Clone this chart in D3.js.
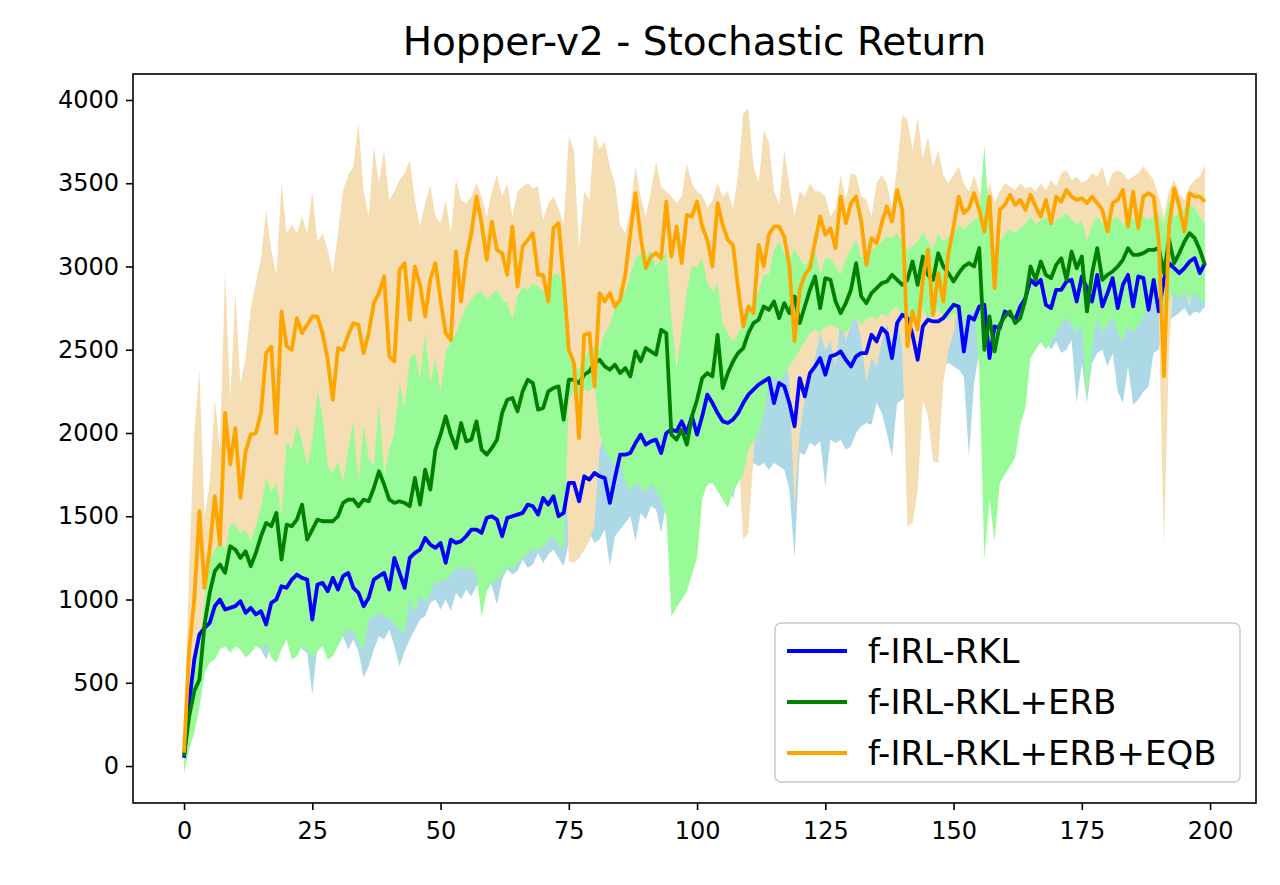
<!DOCTYPE html>
<html>
<head>
<meta charset="utf-8">
<script src="https://cdn.jsdelivr.net/npm/d3@7"></script>
<style>
  body { margin: 0; background: #fff; }
  svg { font-family: "DejaVu Sans", sans-serif; }
</style>
</head>
<body>
<div id="chart"></div>
<script>
// ---- data ----
const title = "Hopper-v2 - Stochastic Return";
const seriesNames = ["f-IRL-RKL", "f-IRL-RKL+ERB", "f-IRL-RKL+ERB+EQB"];
const xTicks = [0, 25, 50, 75, 100, 125, 150, 175, 200];
const yTicks = [0, 500, 1000, 1500, 2000, 2500, 3000, 3500, 4000];

// f-IRL-RKL
const rklMean = [
  50, 380, 640, 790, 830, 860, 960, 1000, 940, 950,
  960, 990, 920, 950, 910, 930, 850, 980, 1000, 1080,
  1070, 1120, 1150, 1130, 1120, 880, 1090, 1100, 1050, 1130,
  1060, 1140, 1160, 1070, 1040, 960, 1010, 1120, 1140, 1160,
  1060, 1250, 1160, 1070, 1250, 1280, 1300, 1370, 1330, 1310,
  1340, 1220, 1360, 1340, 1350, 1380, 1420, 1420, 1400, 1490,
  1500, 1480, 1380, 1490, 1500, 1510, 1520, 1570, 1560, 1510,
  1610, 1570, 1620, 1500, 1520, 1700, 1700, 1590, 1740, 1720,
  1760, 1740, 1730, 1580, 1730, 1870, 1870, 1880, 1940, 1990,
  1930, 1950, 1960, 1880, 2000, 2020, 2010, 2070, 2000, 2100,
  1990, 2100, 2230, 2180, 2120, 2070, 2060, 2080, 2120, 2180,
  2230, 2260, 2290, 2310, 2330, 2180, 2300, 2280, 2180, 2040,
  2330, 2220, 2360, 2400, 2450, 2350, 2460, 2470, 2490, 2440,
  2400, 2460, 2480, 2480, 2590, 2550, 2630, 2600, 2450, 2660,
  2710, 2690, 2590, 2440, 2640, 2680, 2670, 2670, 2690, 2730,
  2770, 2760, 2490, 2700, 2680, 2760, 2770, 2450, 2640, 2630,
  2730, 2710, 2680, 2760, 2810, 2920, 2890, 2920, 2770, 2750,
  2860, 2860, 2910, 2920, 2790, 2940, 2870, 2790, 2950, 2760,
  2840, 2930, 2750, 2890, 2950, 2760, 2940, 2930, 2740, 2920,
  2730, 2920, 3020, 2990, 2960, 2990, 3030, 3050, 2960, 3020
];
const rklLow = [
  -20, 150, 400, 560, 620, 640, 680, 720, 820, 760,
  720, 800, 760, 770, 740, 700, 640, 720, 780, 760,
  800, 780, 820, 700, 680, 430, 720, 780, 800, 760,
  820, 780, 700, 760, 690, 530, 600, 700, 780, 760,
  820, 720, 600, 690, 760, 820, 880, 900, 980, 1000,
  940, 1000, 930, 1040, 1000, 1060, 1020, 1080, 1100, 1150,
  1080, 970, 1120, 1180, 1150, 1170, 1240, 1190, 1210, 1280,
  1220, 1270, 1300, 1250, 1200, 1340, 1380, 1250, 1300, 1400,
  1340, 1360, 1420, 1200, 1380, 1420, 1460, 1500, 1350, 1520,
  1480, 1560, 1540, 1400, 1580, 1600, 1620, 1560, 1640, 1480,
  1660, 1700, 1680, 1750, 1700, 1780, 1720, 1600, 1760, 1700,
  1780, 1820, 1800, 1820, 1780, 1820, 1800, 1780, 1660, 1250,
  1880, 1870, 1940, 1920, 1950, 1680, 1960, 1940, 1960, 1900,
  1920, 2000, 2040, 2060, 2050, 2180, 2120, 2000, 1860, 2180,
  2200, 2220, 2380, 2300, 2400, 2350, 2150, 2380, 2400, 2420,
  2400, 2380, 2340, 1860, 2300, 2480, 2500, 2450, 2300, 2500,
  2520, 2480, 2500, 2540, 2500, 2550, 2520, 2540, 2560, 2500,
  2550, 2480, 2500, 2560, 2180, 2420, 2180, 2420, 2480, 2500,
  2400, 2480, 2250, 2180, 2400, 2170, 2200, 2250, 2280, 2480,
  2500, 2700, 2680, 2700, 2720, 2750, 2700, 2730, 2720, 2760
];
const rklHigh = [
  100, 550, 850, 950, 1000, 1050, 1150, 1200, 1150, 1150,
  1180, 1200, 1120, 1150, 1100, 1150, 1050, 1200, 1220, 1300,
  1280, 1350, 1380, 1350, 1350, 1150, 1320, 1350, 1350, 1380,
  1300, 1380, 1400, 1300, 1280, 1200, 1250, 1380, 1400, 1420,
  1300, 1500, 1420, 1320, 1500, 1550, 1560, 1620, 1600, 1580,
  1600, 1480, 1620, 1600, 1620, 1650, 1680, 1680, 1650, 1750,
  1760, 1740, 1650, 1760, 1780, 1790, 1800, 1850, 1840, 1800,
  1880, 1850, 1900, 1780, 1800, 2000, 2000, 1880, 2050, 2020,
  2060, 2050, 2040, 1900, 2050, 2150, 2150, 2180, 2220, 2280,
  2220, 2240, 2260, 2180, 2300, 2320, 2310, 2370, 2300, 2400,
  2300, 2400, 2520, 2480, 2420, 2380, 2360, 2380, 2420, 2480,
  2520, 2550, 2580, 2600, 2620, 2480, 2600, 2580, 2480, 2400,
  2620, 2520, 2650, 2680, 2720, 2650, 2740, 2760, 2780, 2730,
  2700, 2750, 2760, 2770, 2860, 2820, 2900, 2880, 2750, 2940,
  2980, 2960, 2860, 2750, 2920, 2960, 2950, 2950, 2970, 3000,
  3040, 3030, 2800, 2980, 2960, 3040, 3050, 2760, 2940, 3000,
  3000, 3000, 2980, 3050, 3100, 3200, 3180, 3220, 3100, 3080,
  3150, 3150, 3180, 3200, 3080, 3220, 3150, 3080, 3220, 3060,
  3120, 3200, 3050, 3170, 3220, 3060, 3210, 3200, 3040, 3190,
  3020, 3150, 3250, 3220, 3180, 3220, 3250, 3280, 3200, 3250
];

// f-IRL-RKL+ERB
const erbMean = [
  60, 300, 450, 520, 850, 1040, 1170, 1210, 1160, 1320,
  1300, 1250, 1290, 1200, 1280, 1380, 1460, 1440, 1520, 1240,
  1450, 1440, 1480, 1570, 1360, 1420, 1480, 1470, 1470, 1470,
  1500, 1580, 1600, 1600, 1560, 1600, 1590, 1670, 1770, 1690,
  1600, 1580, 1590, 1580, 1560, 1730, 1570, 1780, 1660, 1900,
  1990, 2100, 1990, 1910, 2060, 1950, 1960, 2070, 1900, 1870,
  1910, 1960, 2120, 2200, 2210, 2130, 2250, 2320, 2300, 2140,
  2150, 2250, 2270, 2280, 2080, 2320, 2320, 2300, 2350, 2370,
  2420, 2440, 2400, 2380, 2410, 2360, 2390, 2340, 2490, 2430,
  2510, 2490, 2470, 2620, 2600, 1990, 1960, 2020, 1930, 2100,
  2200, 2330, 2360, 2340, 2590, 2270, 2360, 2430, 2480, 2510,
  2600, 2660, 2680, 2760, 2740, 2790, 2690, 2780, 2720, 2820,
  2660, 2760, 2860, 2940, 2750, 2930, 2920, 2790, 2720, 2780,
  2860, 3020, 2820, 2780, 2840, 2870, 2900, 2910, 2950, 2920,
  2890, 2920, 3030, 2890, 3060, 2950, 2920, 3080, 3000, 2960,
  2910, 2960, 3000, 3020, 3000, 3110, 2500, 2700, 2490, 2650,
  2700, 2730, 2660, 2690, 2800, 3000, 2920, 3030, 2950, 2930,
  3010, 3050, 2920, 3090, 2990, 3060, 2730, 2960, 3110, 2920,
  2950, 2970, 3000, 3040, 3110, 3070, 3070, 3080, 3100, 3100,
  3110, 2960, 3160, 3020, 3080, 3150, 3200, 3170, 3100, 3010
];
const erbLow = [
  -40, 100, 200, 350, 560, 620, 640, 700, 720, 680,
  720, 700, 650, 680, 720, 700, 740, 650, 620, 700,
  760, 640, 660, 720, 700, 650, 690, 720, 640, 660,
  720, 780, 820, 810, 740, 700, 880, 900, 920, 900,
  880, 860, 820, 800, 1000, 920, 1030, 980, 1050, 1100,
  1110, 1120, 1150, 1180, 1200, 1180, 1200, 1150, 900, 1050,
  1100, 1120, 1150, 1200, 1180, 1220, 1250, 1280, 1300, 1300,
  1320, 1350, 1380, 1330, 1300, 2200, 2250, 2200, 2260, 2250,
  2300, 2000, 1900, 1850, 1800, 1850, 1700, 1650, 1700, 1680,
  1640, 1700, 1650, 1600, 1500, 900, 950, 1000, 1050, 1150,
  1250, 1600, 1700, 1700, 1650, 1600, 1550, 1650, 1700, 1750,
  1900, 1950, 2000, 2100, 2300, 2350, 2300, 2350, 2400, 2450,
  2500, 2550, 2600, 2620, 2600, 2640, 2650, 2640, 2620, 2600,
  2650, 2700, 2650, 2680, 2700, 2680, 2720, 2700, 2740, 2760,
  2700, 2650, 2700, 2600, 2750, 2680, 2700, 2750, 2700, 2680,
  2720, 2700, 2650, 2700, 2750, 2400, 1240, 1600, 1350, 1700,
  1750, 1800, 1850, 2050, 2150, 2450, 2500, 2550, 2500, 2550,
  2600, 2650, 2700, 2650, 2600, 2650, 2200, 2500, 2700, 2600,
  2650, 2700, 2600, 2550, 2650, 2600, 2650, 2700, 2750, 2800,
  2850, 2700, 2800, 2850, 2800, 2850, 2800, 2850, 2800, 2780
];
const erbHigh = [
  150, 500, 650, 700, 1000, 1250, 1300, 1350, 1300, 1450,
  1450, 1400, 1420, 1350, 1450, 1550, 1730, 1650, 1700, 1500,
  1950, 1900, 2050, 1950, 1800, 1950, 2250, 2100, 1800, 1760,
  1830, 1700, 1900, 2070, 1700, 2050, 1850, 1800, 2180, 1750,
  1900, 2000, 2300, 2150, 2450, 2480, 2320, 2600, 2300, 2450,
  2250, 2480, 2550, 2600, 2680, 2760, 2800, 2840, 2850, 2800,
  2830, 2860, 2800, 2780, 2680, 2820, 2880, 2860, 2900, 2880,
  2850, 2900, 2950, 2960, 2900, 2450, 2420, 2380, 2450, 2500,
  2520, 2500, 2600, 2650, 2750, 2800, 2850, 2950, 3050, 3080,
  3050, 3100, 3000, 3050, 3080, 2700, 2400, 2600, 2850, 3000,
  3000, 3050, 2900, 2850, 2900, 2650, 2600, 2550, 2600, 2650,
  2750, 2800, 2850, 2950, 2950, 3100, 3150, 3080, 3050, 3100,
  3050, 3000, 3050, 3100, 2950, 3050, 3050, 3000, 2950, 3050,
  3100, 3160, 3050, 3080, 3100, 3120, 3150, 3180, 3170, 3200,
  3150, 3100, 3120, 3150, 3200, 3150, 3100, 3200, 3150, 3180,
  3200, 3250, 3220, 3250, 3280, 3300, 3730, 3250, 3100, 3150,
  3200, 3220, 3200, 3230, 3250, 3300, 3250, 3280, 3300, 3250,
  3280, 3300, 3320, 3280, 3250, 3280, 3150, 3250, 3300, 3260,
  3250, 3280, 3300, 3250, 3300, 3280, 3320, 3300, 3280, 3300,
  3320, 3250, 3400, 3300, 3320, 3350, 3380, 3350, 3300, 3250
];

// f-IRL-RKL+ERB+EQB
const eqbMean = [
  80, 700, 1000, 1530, 1070, 1300, 1620, 1330, 2120, 1810,
  2030, 1610, 1890, 1990, 2000, 2120, 2480, 2520, 2000, 2730,
  2520, 2500, 2690, 2600, 2650, 2700, 2700, 2600, 2440, 2200,
  2510, 2500, 2590, 2660, 2650, 2480, 2600, 2780, 2840, 2940,
  2460, 2430, 2980, 3020, 2680, 3000, 2890, 2700, 2920, 3020,
  2800, 2600, 2560, 3090, 2790, 3050, 3200, 3420, 3260, 3040,
  3270, 3100, 3080, 2950, 3240, 2880, 3120, 3160, 3200, 2950,
  2950, 2790, 3230, 3260, 2920, 2500, 2420, 1970, 2590, 2600,
  2280, 2840, 2790, 2840, 2760, 2800, 2950, 3200, 3440, 3180,
  2990, 3060, 3080, 3050, 3390, 3060, 3240, 3020, 3310, 3300,
  3390, 3240, 3160, 3000, 3380, 3250, 3160, 3130, 2870, 2640,
  2760, 2720, 3130, 3000, 3190, 3240, 3240, 3180, 3000, 2550,
  2860, 2950, 2990, 3150, 3300, 3190, 3230, 3110, 3420, 3260,
  3380, 3420, 3270, 3010, 3170, 3140, 3260, 3360, 3270, 3460,
  3340, 2520, 2730, 2620, 2920, 3100, 2710, 2960, 2790, 3080,
  3240, 3420, 3320, 3350, 3440, 3340, 3210, 3420, 2870, 3340,
  3370, 3430, 3370, 3400, 3340, 3430, 3360, 3300, 3400, 3260,
  3420, 3390, 3460, 3420, 3400, 3410, 3380, 3420, 3380, 3340,
  3210, 3380, 3400, 3460, 3240, 3450, 3230, 3420, 3440, 3420,
  3150, 2340, 3240, 3470, 3360, 3210, 3440, 3420, 3420, 3390
];
const eqbLow = [
  -40, 150, 400, 700, 650, 800, 900, 850, 1100, 1000,
  1000, 950, 1100, 1200, 1150, 1200, 1350, 1400, 1150, 1500,
  1400, 1300, 1450, 1400, 1500, 1450, 1500, 1350, 1200, 1150,
  1400, 1450, 1500, 1550, 1500, 1400, 1500, 1600, 1700, 1800,
  1300, 1350, 1800, 1900, 1600, 1900, 1800, 1600, 1900, 2000,
  1800, 1600, 1500, 2100, 1800, 2000, 2200, 2300, 2400, 2200,
  2450, 2300, 2250, 2100, 2400, 2000, 2300, 2350, 2400, 2100,
  2050, 1900, 2400, 2450, 2200, 1230, 1220, 1250, 1300, 1350,
  1450, 1900, 2000, 2100, 2000, 2100, 2200, 2400, 2600, 2400,
  2200, 2300, 2350, 2300, 2650, 2300, 2450, 2250, 2550, 2500,
  2600, 2450, 2400, 2200, 2600, 2500, 2300, 2100, 1900, 1360,
  1400, 1850, 2300, 2200, 2500, 2600, 2550, 2500, 2300, 1550,
  2000, 2200, 2300, 2450, 2600, 2500, 2550, 2400, 2700, 2550,
  2650, 2700, 2550, 2300, 2450, 2400, 2550, 2650, 2550, 2700,
  2500, 1440, 1460, 1650, 2200, 2100, 1830, 1820, 2300, 2500,
  2600, 2800, 2700, 2750, 2850, 2750, 2650, 2800, 2300, 2750,
  2800, 2900, 2850, 2900, 2850, 2950, 2900, 2850, 2950, 2800,
  2950, 2900, 3000, 2950, 2900, 2950, 2900, 2950, 2900, 2850,
  2700, 2900, 2950, 3000, 2800, 2950, 2800, 2950, 3000, 2950,
  2700, 1330, 2500, 2950, 3000, 2900, 2750, 2950, 3000, 2950
];
const eqbHigh = [
  120, 1200, 2000, 2380, 1500, 1700, 2200, 1900, 2970, 2200,
  2840, 2300, 2450, 2750, 2900, 3050, 3340, 3100, 2950, 3500,
  3200, 3250, 3200, 3300, 3200, 3450, 3150, 3200, 3100, 2960,
  3200, 3460, 3550, 3600, 3860, 3460, 3300, 3720, 3500, 3700,
  3400, 3450, 3520, 3560, 3640, 3400, 3240, 3380, 3490, 3300,
  3260, 3400, 3200, 3520, 3400, 3380, 3420, 3500, 3420, 3300,
  3450, 3550, 3420, 3500, 3300, 3450, 3480, 3500, 3470, 3480,
  3280, 3380, 3420, 3350, 3250, 3780, 3700, 3100, 3450, 3400,
  3800, 3700, 3750, 3600, 3500, 3250, 3200, 3350, 3600, 3420,
  3300, 3450, 3630, 3480, 3450, 3420, 3380, 3420, 3620, 3500,
  3450, 3430, 3350, 3400, 3500, 3420, 3450, 3350, 3550, 3920,
  3950, 3600, 3500, 3820, 3750, 3450, 3380, 3700, 3480, 3300,
  3450, 3420, 3500, 3450, 3450, 3420, 3300, 3350, 3550, 3400,
  3560, 3550, 3420, 3400, 3300, 3500, 3550, 3500, 3350, 3600,
  3910, 3880, 3700, 3900, 3650, 3780, 3600, 3700, 3550, 3500,
  3550, 3600, 3500, 3450, 3550, 3450, 3400, 3500, 3380, 3450,
  3500, 3480, 3460, 3500, 3470, 3480, 3450, 3500, 3460, 3520,
  3480, 3560, 3580, 3520, 3540, 3500, 3520, 3560, 3540, 3600,
  3480, 3560, 3580, 3560, 3520, 3540, 3560, 3600, 3560, 3520,
  3420, 3300, 3460, 3520, 3440, 3400, 3480, 3520, 3540, 3610
];

// ---- layout ----
const W = 1280, H = 885;
const mLeft = 133, mRight = 1256, mTop = 74, mBottom = 803;

const svg = d3.select("#chart").append("svg")
  .attr("width", W)
  .attr("height", H)
  .attr("viewBox", `0 0 ${W} ${H}`);

const x = d3.scaleLinear().domain([-9.95, 208.95]).range([mLeft, mRight]);
const y = d3.scaleLinear().domain([-222, 4156]).range([mBottom, mTop]);

svg.append("clipPath").attr("id", "plotclip")
  .append("rect")
  .attr("x", mLeft).attr("y", mTop)
  .attr("width", mRight - mLeft).attr("height", mBottom - mTop);

const plot = svg.append("g").attr("clip-path", "url(#plotclip)");

function makeRows(mean, low, high) {
  return mean.map((m, i) => ({ i: i, m: m, lo: low[i], hi: high[i] }));
}

const series = [
  { name: seriesNames[0], rows: makeRows(rklMean, rklLow, rklHigh), line: "#0000ff", band: "#add8e6" },
  { name: seriesNames[1], rows: makeRows(erbMean, erbLow, erbHigh), line: "#008000", band: "#98fb98" },
  { name: seriesNames[2], rows: makeRows(eqbMean, eqbLow, eqbHigh), line: "#ffa500", band: "#f5deb3" }
];

const area = d3.area()
  .x(d => x(d.i))
  .y0(d => y(d.lo))
  .y1(d => y(d.hi));

const line = d3.line()
  .x(d => x(d.i))
  .y(d => y(d.m));

// bands: blue first, then orange, green on top (as in the picture)
[series[0], series[2], series[1]].forEach(s => {
  plot.append("path")
    .attr("d", area(s.rows))
    .attr("fill", s.band)
    .attr("stroke", "none");
});

series.forEach(s => {
  plot.append("path")
    .attr("d", line(s.rows))
    .attr("fill", "none")
    .attr("stroke", s.line)
    .attr("stroke-width", 3.8)
    .attr("stroke-linejoin", "round");
});

// axes
const xAxis = svg.append("g")
  .attr("transform", `translate(0, ${mBottom})`)
  .call(d3.axisBottom(x).tickValues(xTicks).tickSize(7).tickPadding(12).tickFormat(d3.format("d")));
const yAxis = svg.append("g")
  .attr("transform", `translate(${mLeft}, 0)`)
  .call(d3.axisLeft(y).tickValues(yTicks).tickSize(7).tickPadding(7).tickFormat(d3.format("d")));

[xAxis, yAxis].forEach(a => {
  a.select(".domain").remove();
  a.selectAll(".tick line").attr("stroke", "#000").attr("stroke-width", 1.6);
  a.selectAll(".tick text")
    .attr("fill", "#000")
    .style("font-family", "DejaVu Sans, sans-serif")
    .style("font-size", "24px");
});

svg.append("rect")
  .attr("x", mLeft).attr("y", mTop)
  .attr("width", mRight - mLeft).attr("height", mBottom - mTop)
  .attr("fill", "none")
  .attr("stroke", "#000")
  .attr("stroke-width", 1.6);

svg.append("text")
  .attr("x", (mLeft + mRight) / 2)
  .attr("y", 55)
  .attr("text-anchor", "middle")
  .style("font-size", "39px")
  .text(title);

// legend
const legend = svg.append("g").attr("transform", "translate(775, 623)");
legend.append("rect")
  .attr("width", 465).attr("height", 159)
  .attr("rx", 6)
  .attr("fill", "#fff")
  .attr("fill-opacity", 0.8)
  .attr("stroke", "#cccccc")
  .attr("stroke-width", 1.6);

const items = legend.selectAll("g.item")
  .data(series)
  .join("g")
  .attr("class", "item")
  .attr("transform", (d, i) => `translate(0, ${28 + i * 51})`);

items.append("line")
  .attr("x1", 12).attr("x2", 72)
  .attr("stroke", d => d.line)
  .attr("stroke-width", 3.8);

items.append("text")
  .attr("x", 93)
  .attr("y", 12)
  .style("font-size", "34px")
  .text(d => d.name);
</script>
</body>
</html>
